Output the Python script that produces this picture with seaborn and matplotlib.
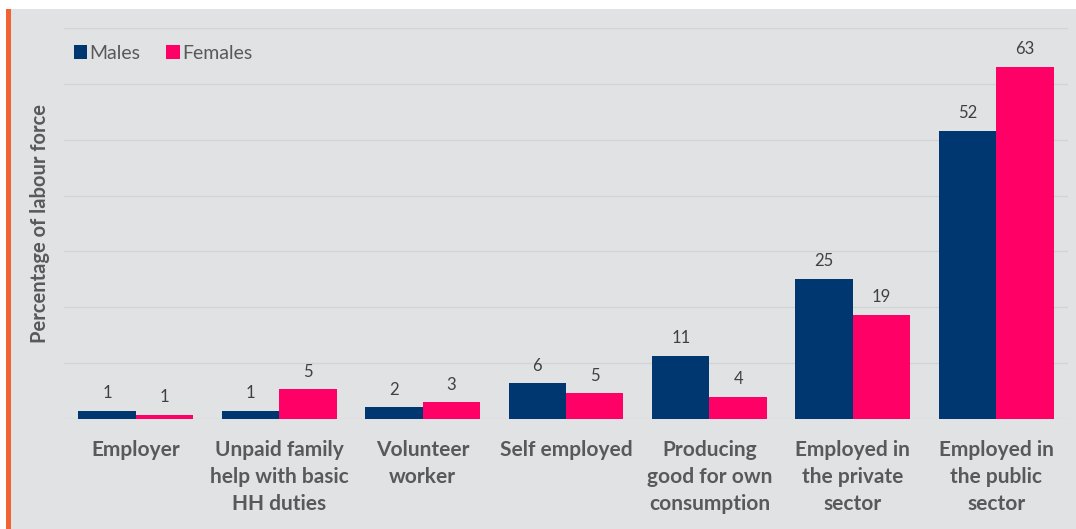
import matplotlib
matplotlib.use("Agg")
import matplotlib.pyplot as plt
import pandas as pd
import seaborn as sns
from matplotlib.patches import Rectangle

categories = ["Employer", "Unpaid family\nhelp with basic\nHH duties", "Volunteer\nworker",
              "Self employed", "Producing\ngood for own\nconsumption",
              "Employed in\nthe private\nsector", "Employed in\nthe public\nsector"]
males = [1.4, 1.4, 2.1, 6.4, 11.3, 25.1, 51.6]
females = [0.7, 5.3, 3.0, 4.6, 3.9, 18.6, 63.0]
series = ["Males", "Females"]
colors = ["#003770", "#ff0066"]

df = pd.DataFrame({
    "category": categories * 2,
    "value": males + females,
    "sex": ["Males"] * len(categories) + ["Females"] * len(categories),
})

sns.set_style("white")
plt.rcParams["font.family"] = ["Lato", "DejaVu Sans"]

fig = plt.figure(figsize=(10.76, 5.29), dpi=100)
fig.patch.set_facecolor("white")
# grey panel and orange stripe
fig.patches.append(Rectangle((11 / 1076, 0), 1, 1 - 9 / 529, transform=fig.transFigure,
                             facecolor="#e1e2e4", edgecolor="none", zorder=-2))
fig.patches.append(Rectangle((6 / 1076, 0), 5 / 1076, 1 - 9 / 529, transform=fig.transFigure,
                             facecolor="#f26334", edgecolor="none", zorder=-2))

ax = fig.add_axes([64 / 1076, 1 - 419 / 529, 1004 / 1076, 391 / 529])
ax.set_facecolor("none")

sns.barplot(data=df, x="category", y="value", hue="sex", hue_order=series,
            palette=colors, saturation=1, width=0.8, linewidth=0, ax=ax, zorder=3)

for cont in ax.containers:
    ax.bar_label(cont, fmt="%.0f", padding=7, fontsize=12, color="#404040")

ax.set_ylim(0, 70)
ax.set_yticks(range(0, 71, 10))
ax.set_yticklabels([])
ax.yaxis.grid(True, color="#d3d4d6", linewidth=1, zorder=0)
ax.set_axisbelow(True)
for s in ax.spines.values():
    s.set_visible(False)
ax.tick_params(axis="both", length=0)
ax.tick_params(axis="x", pad=15)
for lab in ax.get_xticklabels():
    lab.set_fontsize(15)
    lab.set_fontweight("bold")
    lab.set_color("#595959")
    lab.set_linespacing(1.45)

ax.set_xlabel("")
ax.set_ylabel("Percentage of labour force", fontsize=14.5, fontweight="bold", color="#595959")
ax.yaxis.set_label_coords(-14 / 1004, 0.5)

ax.legend(loc="upper left", bbox_to_anchor=(66 / 1076, 1 - 37 / 529),
          bbox_transform=fig.transFigure, ncol=2, frameon=False,
          handlelength=0.7, handleheight=0.7, handletextpad=0.12,
          columnspacing=1.3, fontsize=14, labelcolor="#595959", borderaxespad=0)

fig.savefig("out.png", dpi=100)
